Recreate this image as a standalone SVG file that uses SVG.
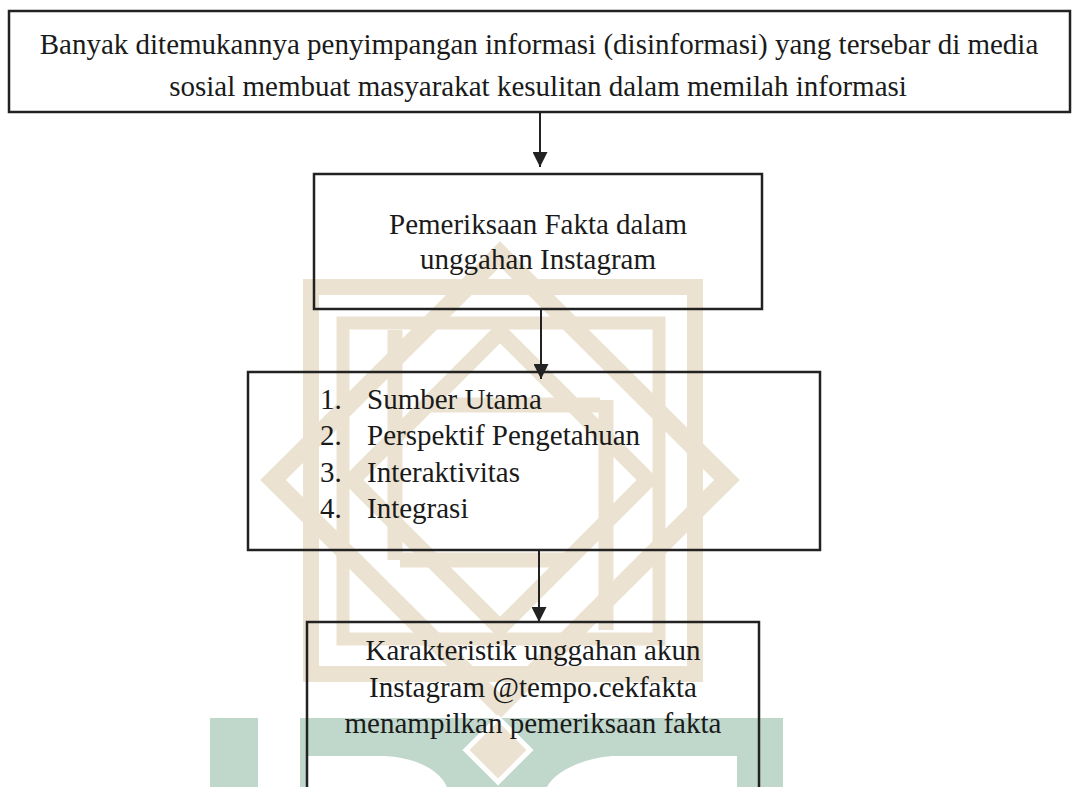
<svg xmlns="http://www.w3.org/2000/svg" width="1072" height="787" viewBox="0 0 1072 787">
  <defs>
    <style>
      .box { fill: none; stroke: #222222; stroke-width: 2.5; }
      .txt { font-family: "Liberation Serif", "Times New Roman", serif; font-size: 29px; fill: #1a1a1a; }
      .mid { text-anchor: middle; }
      .conn { stroke: #222222; stroke-width: 2; fill: none; }
      .tan { fill: none; stroke: #ebe2d1; }
      .tanf { fill: #ebe2d1; }
      .green { fill: #c0d7cc; }
    </style>
    <marker id="arrow" markerUnits="userSpaceOnUse" markerWidth="15" markerHeight="15" refX="15" refY="7.5" orient="auto">
      <path d="M0,0 L15,7.5 L0,15 Z" fill="#222222"/>
    </marker>
  </defs>

  <rect x="0" y="0" width="1072" height="787" fill="#ffffff"/>

  <!-- background watermark -->
  <g id="watermark">
    <rect class="tan" x="311" y="287" width="384" height="387" stroke-width="16"/>
    <polygon class="tan" points="500,254 727,480 500,706 273,480" stroke-width="18"/>
    <rect class="tan" x="343" y="323" width="316" height="316" stroke-width="13"/>
    <polygon class="tan" points="500,332 648,480 500,628 352,480" stroke-width="16"/>
    <path class="tan" d="M606,400 V630 M395,330 V560 M430,405 H600 M400,560 H570" stroke-width="15"/>
    <path class="green" d="M300,718 H783 V787 H737 V756 H612 C585,758 556,770 547,787 H447 C440,770 415,757 383,756 H307 V787 H300 Z"/>
    <rect class="green" x="210" y="718" width="48" height="69"/>
    <polygon class="tanf" points="498,718 530,750 498,782 466,750" stroke="#ffffff" stroke-width="5"/>
  </g>

  <g id="connectors">
    <line class="conn" x1="540" y1="112" x2="540" y2="167" marker-end="url(#arrow)"/>
    <line class="conn" x1="541" y1="309" x2="541" y2="379" marker-end="url(#arrow)"/>
    <line class="conn" x1="539" y1="550" x2="539" y2="622" marker-end="url(#arrow)"/>
  </g>

  <g id="node-masalah">
    <rect class="box" x="9" y="11" width="1061" height="101" stroke-width="3"/>
    <text class="txt mid" x="539" y="54">Banyak ditemukannya penyimpangan informasi (disinformasi) yang tersebar di media</text>
    <text class="txt mid" x="538" y="96">sosial membuat masyarakat kesulitan dalam memilah informasi</text>
  </g>

  <g id="node-pemeriksaan">
    <rect class="box" x="314" y="174" width="448" height="135"/>
    <text class="txt mid" x="538" y="234">Pemeriksaan Fakta dalam</text>
    <text class="txt mid" x="538" y="269">unggahan Instagram</text>
  </g>

  <g id="node-indikator">
    <rect class="box" x="248" y="372" width="572" height="178"/>
    <text class="txt" x="320" y="409">1.</text>
    <text class="txt" x="367" y="409">Sumber Utama</text>
    <text class="txt" x="320" y="445">2.</text>
    <text class="txt" x="367" y="445">Perspektif Pengetahuan</text>
    <text class="txt" x="320" y="482">3.</text>
    <text class="txt" x="367" y="482">Interaktivitas</text>
    <text class="txt" x="320" y="518">4.</text>
    <text class="txt" x="367" y="518">Integrasi</text>
  </g>

  <g id="node-karakteristik">
    <rect class="box" x="307" y="622" width="452" height="190"/>
    <text class="txt mid" x="533" y="660">Karakteristik unggahan akun</text>
    <text class="txt mid" x="533" y="697">Instagram @tempo.cekfakta</text>
    <text class="txt mid" x="533" y="733">menampilkan pemeriksaan fakta</text>
  </g>
</svg>
